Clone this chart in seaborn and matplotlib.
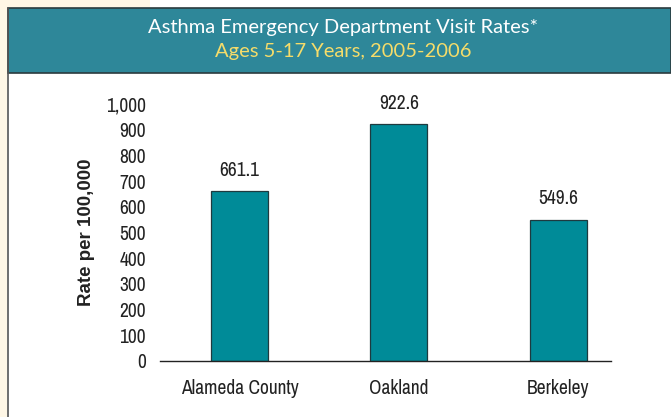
import matplotlib
matplotlib.use("Agg")
import matplotlib.pyplot as plt
import seaborn as sns
import pandas as pd
from matplotlib.patches import Rectangle
from matplotlib import font_manager

categories = ["Alameda County", "Oakland", "Berkeley"]
rates = [661.1, 922.6, 549.6]
rate_labels = ["661.1", "922.6", "549.6"]
yticks = [0, 100, 200, 300, 400, 500, 600, 700, 800, 900, 1000]
ytick_labels = ["0", "100", "200", "300", "400", "500", "600", "700", "800", "900", "1,000"]

sns.set_theme(style="white")
plt.rcParams['font.family'] = ['DejaVu Sans']

# locate a condensed / narrow sans font file if available
cond_path = None
for f in font_manager.fontManager.ttflist:
    if "Narrow" in f.name and f.style == "normal" and f.weight in (400, "normal"):
        cond_path = f.fname
        break
if cond_path is None:
    for f in font_manager.fontManager.ttflist:
        if f.name == "DejaVu Sans" and "Condensed" in f.fname and "Bold" not in f.fname and "Oblique" not in f.fname:
            cond_path = f.fname
            break
if cond_path is not None:
    cfp = lambda size: font_manager.FontProperties(fname=cond_path, size=size)
else:
    cfp = lambda size: font_manager.FontProperties(family="DejaVu Sans", stretch="condensed", size=size)

df = pd.DataFrame({"cat": categories, "rate": rates})

W, H = 671, 417
fig = plt.figure(figsize=(W / 100, H / 100), dpi=100)
fig.patch.set_facecolor("white")

def fx(px):
    return px / W

def fy(py):
    return 1 - py / H

# cream margins
fig.patches.append(Rectangle((0, 0), fx(7), 1, transform=fig.transFigure,
                             facecolor="#FFF7E6", edgecolor="none", zorder=0))
fig.patches.append(Rectangle((0, fy(8)), fx(150), 8 / H, transform=fig.transFigure,
                             facecolor="#FFF7E6", edgecolor="none", zorder=0))
fig.add_artist(plt.Line2D([fx(7.5), fx(7.5)], [0, fy(8)], transform=fig.transFigure,
                          color="#555555", lw=1.2))
# header
fig.patches.append(Rectangle((fx(7.5), fy(73)), 1 - fx(7.5), (73 - 8) / H,
                             transform=fig.transFigure, facecolor="#2E8799",
                             edgecolor="#2B3B3E", lw=1.2, zorder=1))
fig.text(fx(343), fy(28), "Asthma Emergency Department Visit Rates*", color="white",
         ha="center", va="center", fontsize=14.5, family=["Lato", "DejaVu Sans"])
fig.text(fx(343), fy(52), "Ages 5-17 Years, 2005-2006", color="#F5DC6A",
         ha="center", va="center", fontsize=14.5, family=["Lato", "DejaVu Sans"])

ax = fig.add_axes([fx(160), fy(361), fx(611) - fx(160), fy(104) - fy(361)])
sns.barplot(data=df, x="cat", y="rate", color="#008B98", width=0.357,
            edgecolor="#1E3A3F", linewidth=0.9, saturation=1, ax=ax)
ax.set_xlim(-0.498, 2.33)
ax.set_ylim(0, 1000)
ax.set_yticks(yticks)
ax.set_yticklabels(ytick_labels)
ax.set_xticks(range(len(categories)))
ax.set_xticklabels(categories)
for lab in ax.get_yticklabels() + ax.get_xticklabels():
    lab.set_fontproperties(cfp(14))
    lab.set_color("#222222")
ax.tick_params(axis="x", pad=13, length=0)
ax.tick_params(axis="y", length=0, pad=10)
ax.set_xlabel("")
ax.set_ylabel("Rate per 100,000", fontsize=13.5, fontweight="bold",
              family=["Liberation Sans", "DejaVu Sans"], color="#222222")
ax.yaxis.set_label_coords(-(160 - 95) / (611 - 160), 0.5)
for s in ["top", "right", "left"]:
    ax.spines[s].set_visible(False)
ax.spines["bottom"].set_color("#222222")
ax.spines["bottom"].set_linewidth(1.0)
ax.set_facecolor("none")

for i, (v, t) in enumerate(zip(rates, rate_labels)):
    ax.annotate(t, (i, v), xytext=(0, 15), textcoords="offset points",
                ha="center", va="center", fontproperties=cfp(14), color="#222222")

fig.savefig("out.png", dpi=100)
